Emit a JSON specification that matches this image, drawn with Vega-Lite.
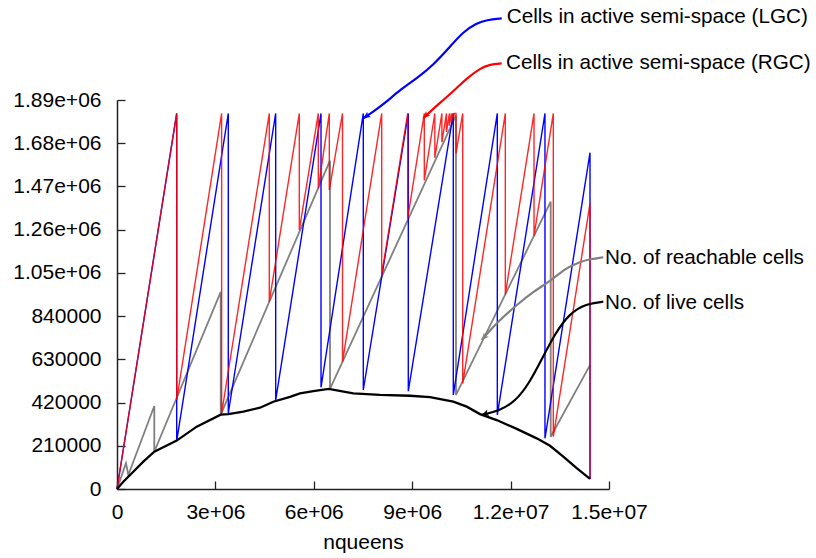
{
  "$schema": "https://vega.github.io/schema/vega-lite/v6.json",
  "width": 492,
  "height": 389,
  "autosize": {"type": "none"},
  "padding": {"left": 117, "top": 100, "right": 207, "bottom": 69},
  "config": {
    "view": {"stroke": null},
    "font": "Liberation Sans",
    "text": {"font": "Liberation Sans"}
  },
  "datasets": {
    "lgc": [
      {"i": 0, "x": 0, "y": 0},
      {"i": 1, "x": 1820000, "y": 1825000},
      {"i": 2, "x": 1820000, "y": 233000},
      {"i": 3, "x": 3393000, "y": 1825000},
      {"i": 4, "x": 3393000, "y": 368000},
      {"i": 5, "x": 4838000, "y": 1825000},
      {"i": 6, "x": 4838000, "y": 432000},
      {"i": 7, "x": 6220000, "y": 1825000},
      {"i": 8, "x": 6220000, "y": 494000},
      {"i": 9, "x": 7509000, "y": 1825000},
      {"i": 10, "x": 7509000, "y": 481000},
      {"i": 11, "x": 8881000, "y": 1825000},
      {"i": 12, "x": 8881000, "y": 475000},
      {"i": 13, "x": 10253000, "y": 1825000},
      {"i": 14, "x": 10253000, "y": 457000},
      {"i": 15, "x": 11595000, "y": 1825000},
      {"i": 16, "x": 11595000, "y": 360000},
      {"i": 17, "x": 13048000, "y": 1825000},
      {"i": 18, "x": 13048000, "y": 246000},
      {"i": 19, "x": 14421000, "y": 1634000},
      {"i": 20, "x": 14421000, "y": 49000}
    ],
    "rgc": [
      {"i": 0, "x": 0, "y": 0},
      {"i": 1, "x": 1820000, "y": 1825000},
      {"i": 2, "x": 1820000, "y": 432000},
      {"i": 3, "x": 3190000, "y": 1825000},
      {"i": 4, "x": 3190000, "y": 368000},
      {"i": 5, "x": 4643000, "y": 1825000},
      {"i": 6, "x": 4643000, "y": 910000},
      {"i": 7, "x": 5558000, "y": 1825000},
      {"i": 8, "x": 5558000, "y": 1258000},
      {"i": 9, "x": 6137000, "y": 1825000},
      {"i": 10, "x": 6137000, "y": 1461000},
      {"i": 11, "x": 6473000, "y": 1825000},
      {"i": 12, "x": 6473000, "y": 1453000},
      {"i": 13, "x": 6875000, "y": 1825000},
      {"i": 14, "x": 6875000, "y": 618000},
      {"i": 15, "x": 8070000, "y": 1825000},
      {"i": 16, "x": 8070000, "y": 1040000},
      {"i": 17, "x": 8863000, "y": 1825000},
      {"i": 18, "x": 8863000, "y": 1315000},
      {"i": 19, "x": 9369000, "y": 1825000},
      {"i": 20, "x": 9369000, "y": 1500000},
      {"i": 21, "x": 9690000, "y": 1825000},
      {"i": 22, "x": 9690000, "y": 1610000},
      {"i": 23, "x": 9905000, "y": 1825000},
      {"i": 24, "x": 9905000, "y": 1685000},
      {"i": 25, "x": 10045000, "y": 1825000},
      {"i": 26, "x": 10045000, "y": 1735000},
      {"i": 27, "x": 10135000, "y": 1825000},
      {"i": 28, "x": 10135000, "y": 1765000},
      {"i": 29, "x": 10195000, "y": 1825000},
      {"i": 30, "x": 10195000, "y": 1785000},
      {"i": 31, "x": 10235000, "y": 1825000},
      {"i": 32, "x": 10235000, "y": 1800000},
      {"i": 33, "x": 10260000, "y": 1825000},
      {"i": 34, "x": 10260000, "y": 1808000},
      {"i": 35, "x": 10285000, "y": 1825000},
      {"i": 36, "x": 10335000, "y": 1825000},
      {"i": 37, "x": 10335000, "y": 1631000},
      {"i": 38, "x": 10540000, "y": 1825000},
      {"i": 39, "x": 10540000, "y": 513000},
      {"i": 40, "x": 11839000, "y": 1825000},
      {"i": 41, "x": 11839000, "y": 946000},
      {"i": 42, "x": 12714000, "y": 1825000},
      {"i": 43, "x": 12714000, "y": 1230000},
      {"i": 44, "x": 13302000, "y": 1825000},
      {"i": 45, "x": 13302000, "y": 254000},
      {"i": 46, "x": 14421000, "y": 1388000},
      {"i": 47, "x": 14421000, "y": 49000}
    ],
    "reach": [
      {"i": 0, "x": 0, "y": 0},
      {"i": 1, "x": 274000, "y": 125000},
      {"i": 2, "x": 345000, "y": 68000},
      {"i": 3, "x": 1137000, "y": 403000},
      {"i": 4, "x": 1137000, "y": 181000},
      {"i": 5, "x": 3162000, "y": 958000},
      {"i": 6, "x": 3162000, "y": 361000},
      {"i": 7, "x": 6494000, "y": 1595000},
      {"i": 8, "x": 6494000, "y": 486000},
      {"i": 9, "x": 10335000, "y": 1815000},
      {"i": 10, "x": 10335000, "y": 457000},
      {"i": 11, "x": 13223000, "y": 1396000},
      {"i": 12, "x": 13223000, "y": 254000},
      {"i": 13, "x": 14421000, "y": 602000}
    ],
    "live": [
      {"i": 0, "x": 0, "y": 0},
      {"i": 1, "x": 192000, "y": 35000},
      {"i": 2, "x": 497000, "y": 84000},
      {"i": 3, "x": 802000, "y": 133000},
      {"i": 4, "x": 1137000, "y": 181000},
      {"i": 5, "x": 1820000, "y": 235000},
      {"i": 6, "x": 2430000, "y": 303000},
      {"i": 7, "x": 3162000, "y": 361000},
      {"i": 8, "x": 3393000, "y": 364000},
      {"i": 9, "x": 3851000, "y": 376000},
      {"i": 10, "x": 4360000, "y": 395000},
      {"i": 11, "x": 4765000, "y": 424000},
      {"i": 12, "x": 5274000, "y": 448000},
      {"i": 13, "x": 5579000, "y": 465000},
      {"i": 14, "x": 5985000, "y": 476000},
      {"i": 15, "x": 6454000, "y": 486000},
      {"i": 16, "x": 7204000, "y": 465000},
      {"i": 17, "x": 8018000, "y": 457000},
      {"i": 18, "x": 8933000, "y": 453000},
      {"i": 19, "x": 9543000, "y": 446000},
      {"i": 20, "x": 10253000, "y": 424000},
      {"i": 21, "x": 10662000, "y": 400000},
      {"i": 22, "x": 11067000, "y": 364000},
      {"i": 23, "x": 11576000, "y": 335000},
      {"i": 24, "x": 12186000, "y": 292000},
      {"i": 25, "x": 12796000, "y": 246000},
      {"i": 26, "x": 13201000, "y": 210000},
      {"i": 27, "x": 13607000, "y": 157000},
      {"i": 28, "x": 14015000, "y": 101000},
      {"i": 29, "x": 14421000, "y": 49000}
    ],
    "callouts": [
      {"s": "LGC", "k": 0, "x": 11729000, "y": 2287000},
      {"s": "LGC", "k": 1, "x": 11271000, "y": 2279000},
      {"s": "LGC", "k": 2, "x": 10967000, "y": 2263000},
      {"s": "LGC", "k": 3, "x": 10558000, "y": 2222000},
      {"s": "LGC", "k": 4, "x": 10153000, "y": 2149000},
      {"s": "LGC", "k": 5, "x": 9643000, "y": 2060000},
      {"s": "LGC", "k": 6, "x": 9137000, "y": 1995000},
      {"s": "LGC", "k": 7, "x": 8628000, "y": 1939000},
      {"s": "LGC", "k": 8, "x": 8223000, "y": 1882000},
      {"s": "LGC", "k": 9, "x": 7814000, "y": 1833000},
      {"s": "LGC", "k": 10, "x": 7509000, "y": 1801000},
      {"s": "RGC", "k": 0, "x": 11729000, "y": 2068000},
      {"s": "RGC", "k": 1, "x": 11372000, "y": 2063000},
      {"s": "RGC", "k": 2, "x": 11067000, "y": 2044000},
      {"s": "RGC", "k": 3, "x": 10662000, "y": 1995000},
      {"s": "RGC", "k": 4, "x": 10357000, "y": 1948000},
      {"s": "RGC", "k": 5, "x": 9948000, "y": 1890000},
      {"s": "RGC", "k": 6, "x": 9543000, "y": 1833000},
      {"s": "RGC", "k": 7, "x": 9338000, "y": 1801000},
      {"s": "reach", "k": 0, "x": 14826000, "y": 1126000},
      {"s": "reach", "k": 1, "x": 14421000, "y": 1117000},
      {"s": "reach", "k": 2, "x": 14117000, "y": 1104000},
      {"s": "reach", "k": 3, "x": 13659000, "y": 1071000},
      {"s": "reach", "k": 4, "x": 13253000, "y": 1015000},
      {"s": "reach", "k": 5, "x": 12692000, "y": 959000},
      {"s": "reach", "k": 6, "x": 12186000, "y": 894000},
      {"s": "reach", "k": 7, "x": 11778000, "y": 837000},
      {"s": "reach", "k": 8, "x": 11473000, "y": 788000},
      {"s": "reach", "k": 9, "x": 11119000, "y": 724000},
      {"s": "live", "k": 0, "x": 14826000, "y": 910000},
      {"s": "live", "k": 1, "x": 14300000, "y": 900000},
      {"s": "live", "k": 2, "x": 13811000, "y": 855000},
      {"s": "live", "k": 3, "x": 13350000, "y": 755000},
      {"s": "live", "k": 4, "x": 12950000, "y": 630000},
      {"s": "live", "k": 5, "x": 12590000, "y": 520000},
      {"s": "live", "k": 6, "x": 12150000, "y": 425000},
      {"s": "live", "k": 7, "x": 11650000, "y": 380000},
      {"s": "live", "k": 8, "x": 11119000, "y": 360000}
    ],
    "labels": [
      {"s": "LGC", "text": "Cells in active semi-space (LGC)", "x": 11881000, "y": 2291000},
      {"s": "RGC", "text": "Cells in active semi-space (RGC)", "x": 11860000, "y": 2072000},
      {"s": "reach", "text": "No. of reachable cells", "x": 14878000, "y": 1121000},
      {"s": "live", "text": "No. of live cells", "x": 14878000, "y": 902000}
    ]
  },
  "encoding": {
    "x": {
      "field": "x",
      "type": "quantitative",
      "scale": {"domain": [0, 15000000], "nice": false, "zero": false},
      "axis": {
        "values": [0, 3000000, 6000000, 9000000, 12000000, 15000000],
        "labelExpr": "datum.value == 0 ? '0' : (datum.value < 10000000 ? format(datum.value / 1000000, 'd') + 'e+06' : format(datum.value / 10000000, '.1f') + 'e+07')",
        "title": "nqueens",
        "grid": false,
        "tickSize": -8,
        "tickWidth": 1.3,
        "tickColor": "#222",
        "domainColor": "#222",
        "domainWidth": 1.5,
        "labelFontSize": 21,
        "labelColor": "#000",
        "labelPadding": 20,
        "labelFlush": false,
        "labelOverlap": false,
        "titleFontSize": 21,
        "titleFontWeight": "normal",
        "titleColor": "#000",
        "titlePadding": 9
      }
    },
    "y": {
      "field": "y",
      "type": "quantitative",
      "scale": {"domain": [0, 1890000], "nice": false, "zero": false},
      "axis": {
        "values": [0, 210000, 420000, 630000, 840000, 1050000, 1260000, 1470000, 1680000, 1890000],
        "labelExpr": "datum.value >= 1000000 ? format(datum.value / 1000000, '.2f') + 'e+06' : format(datum.value, 'd')",
        "title": null,
        "grid": false,
        "tickSize": -8,
        "tickWidth": 1.3,
        "tickColor": "#222",
        "domainColor": "#222",
        "domainWidth": 1.5,
        "labelFontSize": 21,
        "labelColor": "#000",
        "labelPadding": 24,
        "labelFlush": false,
        "labelOverlap": false
      }
    }
  },
  "layer": [
    {
      "data": {"name": "reach"},
      "mark": {"type": "line", "color": "#808080", "strokeWidth": 1.8},
      "encoding": {"order": {"field": "i", "type": "quantitative"}}
    },
    {
      "data": {"name": "lgc"},
      "mark": {"type": "line", "color": "#0000ff", "strokeWidth": 1.4},
      "encoding": {"order": {"field": "i", "type": "quantitative"}}
    },
    {
      "data": {"name": "rgc"},
      "mark": {"type": "line", "color": "#ff0000", "strokeWidth": 1.4, "opacity": 0.85},
      "encoding": {"order": {"field": "i", "type": "quantitative"}}
    },
    {
      "data": {"name": "live"},
      "mark": {"type": "line", "color": "#000000", "strokeWidth": 2.3},
      "encoding": {"order": {"field": "i", "type": "quantitative"}}
    },
    {
      "data": {"name": "callouts"},
      "mark": {"type": "line", "strokeWidth": 2.2, "clip": false, "interpolate": "basis"},
      "encoding": {
        "order": {"field": "k", "type": "quantitative"},
        "detail": {"field": "s"},
        "color": {
          "field": "s",
          "type": "nominal",
          "scale": {"domain": ["LGC", "RGC", "reach", "live"], "range": ["#0000ff", "#ff0000", "#808080", "#000000"]},
          "legend": null
        }
      }
    },
    {
      "data": {"name": "callouts"},
      "transform": [{"filter": "datum.s == 'LGC' && datum.k == 10"}],
      "mark": {"type": "point", "shape": "M0,0L-0.55,1.2L0,0.9L0.55,1.2Z", "filled": true, "size": 140, "angle": 236, "color": "#0000ff", "opacity": 1}
    },
    {
      "data": {"name": "callouts"},
      "transform": [{"filter": "datum.s == 'RGC' && datum.k == 7"}],
      "mark": {"type": "point", "shape": "M0,0L-0.55,1.2L0,0.9L0.55,1.2Z", "filled": true, "size": 140, "angle": 225, "color": "#ff0000", "opacity": 1}
    },
    {
      "data": {"name": "callouts"},
      "transform": [{"filter": "datum.s == 'reach' && datum.k == 9"}],
      "mark": {"type": "point", "shape": "M0,0L-0.55,1.2L0,0.9L0.55,1.2Z", "filled": true, "size": 140, "angle": 221, "color": "#808080", "opacity": 1}
    },
    {
      "data": {"name": "callouts"},
      "transform": [{"filter": "datum.s == 'live' && datum.k == 8"}],
      "mark": {"type": "point", "shape": "M0,0L-0.55,1.2L0,0.9L0.55,1.2Z", "filled": true, "size": 140, "angle": 251, "color": "#000000", "opacity": 1}
    },
    {
      "data": {"name": "labels"},
      "mark": {"type": "text", "align": "left", "baseline": "middle", "fontSize": 20.7, "color": "#000000", "font": "Liberation Sans"},
      "encoding": {"text": {"field": "text"}}
    }
  ]
}
